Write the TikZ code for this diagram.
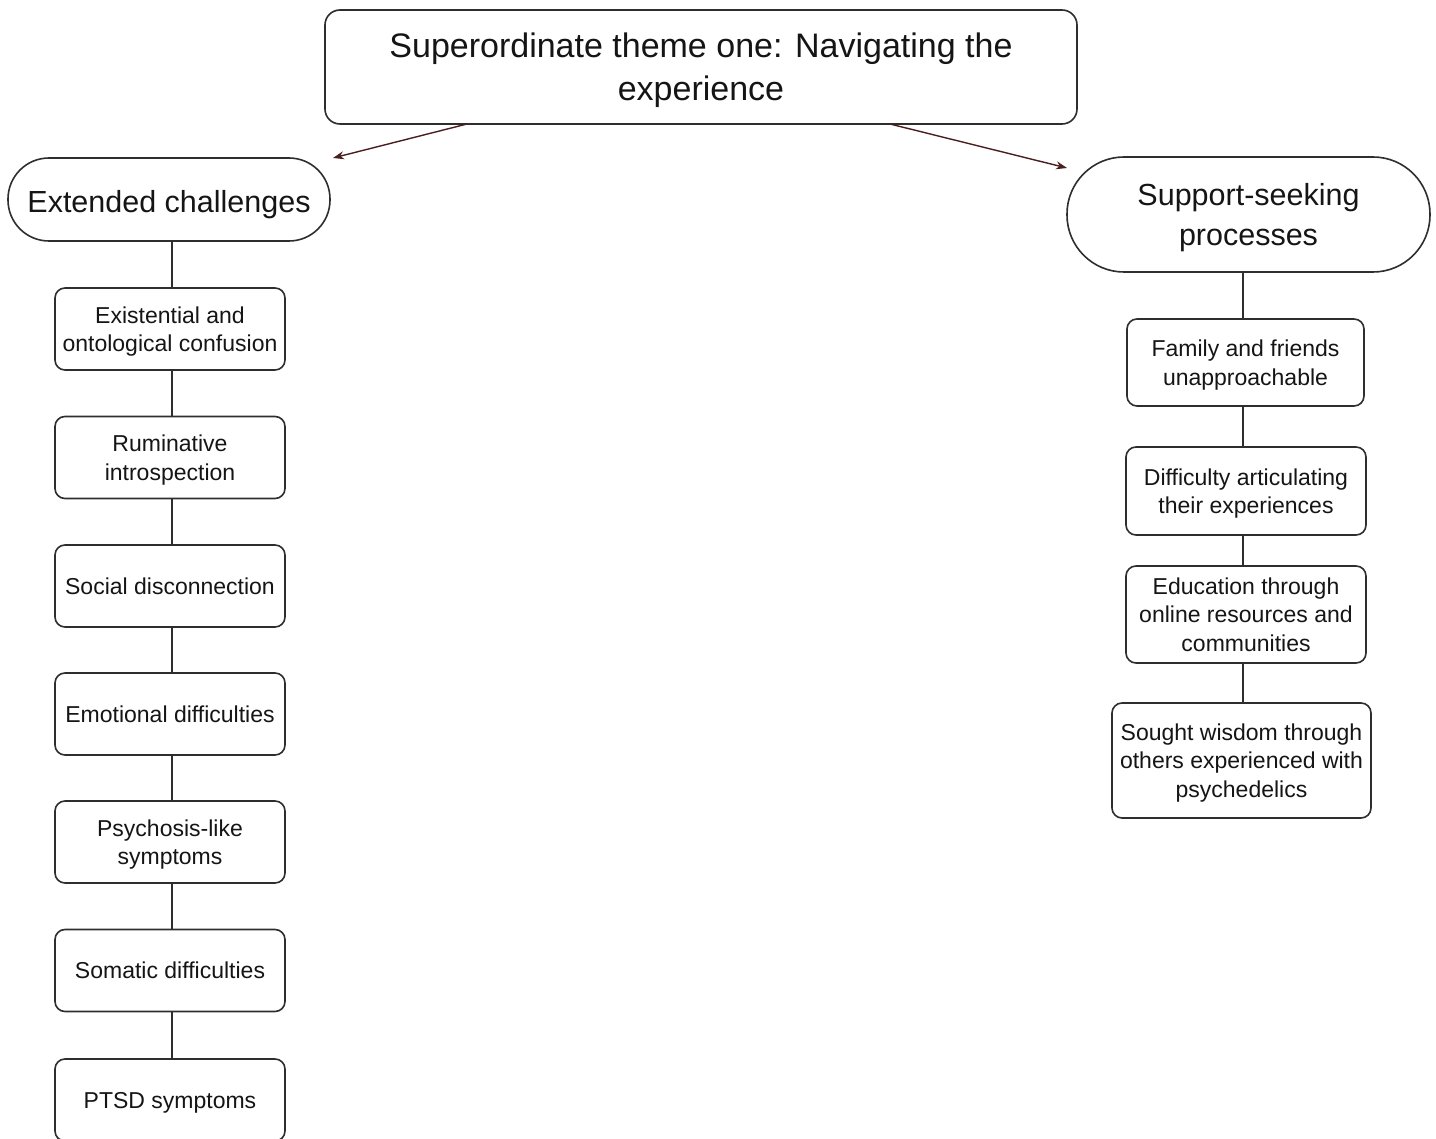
\documentclass[tikz,border=0pt]{standalone}
\usepackage{fontspec}
\setmainfont{Liberation Sans}
\usetikzlibrary{arrows.meta}
\definecolor{edgegray}{HTML}{2E2E2E}
\definecolor{inkblack}{HTML}{151515}
\definecolor{arrowred}{HTML}{4A1E1E}
\begin{document}
\begin{tikzpicture}[x=1pt,y=-1pt,
  % a taller first line lowers the text block a little inside its box
  firstline/.style={execute at begin node={\rule{0pt}{#1}}},
  titlebox/.style={draw=edgegray,line width=1.6pt,rounded corners=15pt,
    minimum width=752pt,minimum height=114pt,align=center,text=inkblack,
    font=\fontsize{34}{43}\selectfont,inner sep=0pt,text depth=0pt,firstline=28pt},
  pill/.style={draw=edgegray,line width=1.6pt,align=center,text=inkblack,
    font=\fontsize{30.5}{39.5}\selectfont,inner sep=0pt,text depth=0pt,firstline=26.3pt},
  itembox/.style={draw=edgegray,line width=1.6pt,rounded corners=10pt,
    align=center,text=inkblack,font=\fontsize{23}{28.5}\selectfont,
    inner sep=0pt,text depth=0pt},
  multi/.style={firstline=21pt},
  link/.style={draw=edgegray,line width=1.5pt},
  branch/.style={draw=arrowred,line width=1.4pt,-{Stealth[length=11pt,width=8pt]}}
]
\useasboundingbox[fill=white] (0,0) rectangle (1436,1139);

% top-level theme
\node[titlebox] (title) at (701,67) {Superordinate theme one: Navigating the\\experience};

% subthemes
\node[pill,rounded corners=41pt,minimum width=322pt,minimum height=83pt]
  (ext) at (169,199.5) {Extended challenges};
\node[pill,rounded corners=57pt,minimum width=363pt,minimum height=115pt]
  (sup) at (1248.5,214.5) {Support-seeking\\processes};

% branch arrows
\coordinate (tl) at (467,124);
\coordinate (tle) at (333,158);
\coordinate (tr) at (890,124);
\coordinate (tre) at (1067,168);
\draw[branch] (tl) -- (tle);
\draw[branch] (tr) -- (tre);

% vertical spines of the two columns
\coordinate (lspine) at (172,0);
\coordinate (rspine) at (1243,0);

% left column
\node[itembox,multi,minimum width=230pt,minimum height=82pt] (l1) at (170,329) {Existential and\\ontological confusion};
\node[itembox,multi,minimum width=230pt,minimum height=82pt] (l2) at (170,457.5) {Ruminative\\introspection};
\node[itembox,minimum width=230pt,minimum height=82pt] (l3) at (170,586) {Social disconnection};
\node[itembox,minimum width=230pt,minimum height=82pt] (l4) at (170,714) {Emotional difficulties};
\node[itembox,multi,minimum width=230pt,minimum height=82pt] (l5) at (170,842) {Psychosis-like\\symptoms};
\node[itembox,minimum width=230pt,minimum height=82pt] (l6) at (170,970.5) {Somatic difficulties};
\node[itembox,minimum width=230pt,minimum height=82pt] (l7) at (170,1100) {PTSD symptoms};

\draw[link] (ext.south -| lspine) -- (l1.north -| lspine);
\draw[link] (l1.south -| lspine) -- (l2.north -| lspine);
\draw[link] (l2.south -| lspine) -- (l3.north -| lspine);
\draw[link] (l3.south -| lspine) -- (l4.north -| lspine);
\draw[link] (l4.south -| lspine) -- (l5.north -| lspine);
\draw[link] (l5.south -| lspine) -- (l6.north -| lspine);
\draw[link] (l6.south -| lspine) -- (l7.north -| lspine);

% right column
\node[itembox,multi,minimum width=237pt,minimum height=87pt] (r1) at (1245.5,362.5) {Family and friends\\unapproachable};
\node[itembox,multi,minimum width=240pt,minimum height=88pt] (r2) at (1246,491) {Difficulty articulating\\their experiences};
\node[itembox,multi,minimum width=240pt,minimum height=97pt] (r3) at (1246,614.5) {Education through\\online resources and\\communities};
\node[itembox,multi,minimum width=259pt,minimum height=115pt] (r4) at (1241.5,760.5) {Sought wisdom through\\others experienced with\\psychedelics};

\draw[link] (sup.south -| rspine) -- (r1.north -| rspine);
\draw[link] (r1.south -| rspine) -- (r2.north -| rspine);
\draw[link] (r2.south -| rspine) -- (r3.north -| rspine);
\draw[link] (r3.south -| rspine) -- (r4.north -| rspine);
\end{tikzpicture}
\end{document}
